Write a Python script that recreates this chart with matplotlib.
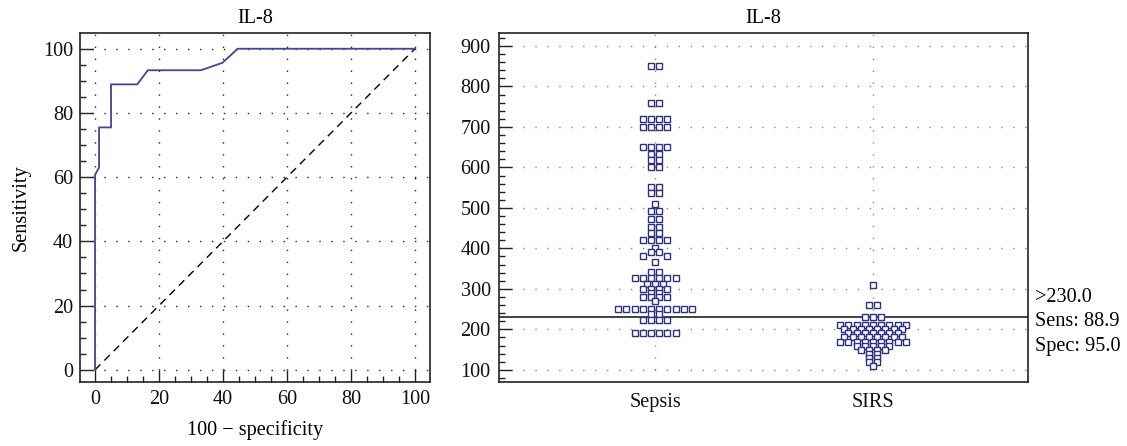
import numpy as np
import matplotlib
matplotlib.use('Agg')
import matplotlib.pyplot as plt
from matplotlib.ticker import MultipleLocator

plt.rcParams['font.family'] = ['Liberation Serif', 'DejaVu Serif']
FS = 14.6
plt.rcParams['font.size'] = FS

# ---------------- data ----------------
title = 'IL-8'
roc_fpr = [0, 0, 1.25, 1.25, 5, 5, 13.2, 16.5, 33.1, 39.8, 44.6, 100]
roc_tpr = [0, 60.7, 63.0, 75.5, 75.5, 88.9, 88.9, 93.3, 93.3, 95.6, 100, 100]

categories = ['Sepsis', 'SIRS']
sepsis_values = [850, 760, 720, 700, 650, 632, 619, 600, 551, 537, 510, 492, 473,
                 453, 438, 421, 402, 391, 382, 366, 342, 326, 312, 300, 290, 280,
                 270, 251, 237, 222, 190]
sepsis_counts = [2, 2, 4, 4, 4, 2, 2, 2, 2, 2, 1, 2, 2,
                 2, 2, 4, 1, 2, 2, 1, 2, 6, 3, 4, 2, 4,
                 1, 10, 2, 4, 6]
sirs_values = [310, 260, 230, 210, 200, 190, 180, 170, 160, 150, 140, 130, 120, 110]
sirs_counts = [1, 2, 3, 9, 8, 7, 8, 9, 5, 4, 2, 2, 2, 1]

cutoff = 230.0
sens = 88.9
spec = 95.0

# ---------------- figure ----------------
W, H = 1127, 446
fig = plt.figure(figsize=(W / 100, H / 100), dpi=100)
ax1 = fig.add_axes([80 / W, 1 - 382 / H, 350 / W, 349 / H])
ax2 = fig.add_axes([499 / W, 1 - 382 / H, 529 / W, 349 / H])

spine_col = '#222222'
mark_col = '#2e3180'
line_col = '#3c4796'

for ax in (ax1, ax2):
    for s in ax.spines.values():
        s.set_color(spine_col)
        s.set_linewidth(1.2)
    ax.tick_params(which='both', direction='in', colors=spine_col,
                   labelcolor='#111111', width=1.0, labelsize=FS)
    ax.tick_params(which='major', length=9)
    ax.tick_params(which='minor', length=4.5)
    ax.set_title(title, fontsize=FS, pad=7)

# ---- ROC ----
ax1.plot(roc_fpr, roc_tpr, color=line_col, lw=1.3, zorder=3)
ax1.plot([0, 100], [0, 100], color='black', lw=1.0, linestyle=(0, (5.5, 4)), zorder=2)
ax1.set_xlim(-4.7, 104.7)
ax1.set_ylim(-3.8, 104.9)
ax1.xaxis.set_major_locator(MultipleLocator(20))
ax1.yaxis.set_major_locator(MultipleLocator(20))
ax1.xaxis.set_minor_locator(MultipleLocator(5))
ax1.yaxis.set_minor_locator(MultipleLocator(5))
ax1.grid(True, which='major', color='#222222', lw=1.0, linestyle=(0, (1, 7.6)))
ax1.set_axisbelow(True)
ax1.tick_params(axis='x', pad=6)
ax1.tick_params(axis='y', pad=5)
ax1.set_xlabel('100 \u2212 specificity', labelpad=8)
ax1.set_ylabel('Sensitivity', labelpad=9)

# ---- dot plot ----
step = 8.2 / 218.0  # horizontal spacing between squares (data units)


def layout(values, counts, center):
    xs, ys = [], []
    prev_val, prev_n, prev_extent = None, None, 0
    for v, n in zip(values, counts):
        offs = (np.arange(n) - (n - 1) / 2.0)
        if prev_val is not None and abs(prev_val - v) < 10 and (n % 2) == (prev_n % 2):
            half = n // 2
            offs = np.concatenate([-(prev_extent + 1 + np.arange(half)),
                                   prev_extent + 1 + np.arange(half)])
        for o in offs:
            xs.append(center + o * step)
            ys.append(v)
        prev_val, prev_n = v, n
        prev_extent = float(np.max(np.abs(offs))) if n > 0 else 0
    return xs, ys


sx, sy = layout(sepsis_values, sepsis_counts, 1)
rx, ry = layout(sirs_values, sirs_counts, 2)

ax2.set_xlim(0.284, 2.711)
ax2.set_ylim(70, 932)
ax2.axhline(cutoff, color='#333333', lw=1.3, zorder=2)
ax2.plot(sx, sy, 's', ms=4.4, mfc='white', mec=mark_col, mew=1.0, zorder=3, linestyle='none')
ax2.plot(rx, ry, 's', ms=4.4, mfc='white', mec=mark_col, mew=1.0, zorder=3, linestyle='none')
ax2.set_xticks([1, 2])
ax2.set_xticklabels(categories)
ax2.tick_params(axis='x', length=0, pad=8)
ax2.yaxis.set_major_locator(MultipleLocator(100))
ax2.yaxis.set_minor_locator(MultipleLocator(20))
ax2.tick_params(axis='y', pad=6)
ax2.grid(True, which='major', color='#888888', lw=1.0, linestyle=(0, (1, 7.6)))
ax2.set_axisbelow(True)

tx = 1 + 7 / 529
ax2.text(tx, (382 - 298) / 349, '>%.1f' % cutoff, transform=ax2.transAxes,
         va='center', ha='left', fontsize=FS)
ax2.text(tx, (382 - 322) / 349, 'Sens: %.1f' % sens, transform=ax2.transAxes,
         va='center', ha='left', fontsize=FS)
ax2.text(tx, (382 - 346) / 349, 'Spec: %.1f' % spec, transform=ax2.transAxes,
         va='center', ha='left', fontsize=FS)

fig.savefig('out.png', dpi=100)
